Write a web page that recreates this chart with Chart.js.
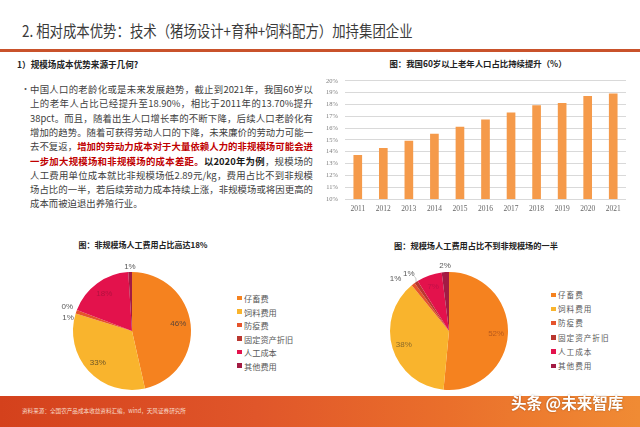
<!DOCTYPE html>
<html>
<head>
<meta charset="utf-8">
<script src="https://cdn.jsdelivr.net/npm/chart.js@4.4.1/dist/chart.umd.min.js"></script>
<style>
html, body { margin: 0; padding: 0; background: #fff; }
body { width: 640px; height: 427px; position: relative; overflow: hidden;
	font-family: "Noto Sans CJK SC", "Noto Sans", sans-serif; color: #333; }
.abs { position: absolute; white-space: nowrap; }
#title { left: 22px; top: 21px; font-size: 13.4px; line-height: 18px; color: #3a3a3a;
	transform: scaleY(1.15); transform-origin: left center; }
#rule { left: 0; top: 49px; width: 640px; height: 3px; background: #c9522b; }
#sub { left: 17px; top: 58px; font-size: 8.6px; line-height: 12px; font-weight: bold; color: #222; }
.bullet { left: 21px; font-size: 9px; color: #555; }
.line { left: 30px; width: 283px; font-size: 9.4px; line-height: 14px; color: #404040;
	text-align: justify; text-align-last: justify; }
.line.last { text-align-last: left; }
.red { color: #c00000; font-weight: bold; }
.blk { color: #1a1a1a; font-weight: bold; }
.ctitle { font-size: 8.4px; line-height: 12px; font-weight: bold; color: #222; text-align: center; }
.lg { font-size: 8.2px; line-height: 10px; color: #595959; }
.lg i { position: absolute; left: -7px; top: 2.5px; width: 4.5px; height: 4.5px; }
#foot { left: 0; top: 396px; width: 640px; height: 31px;
	background: linear-gradient(90deg, #d4411c 0%, #e0562a 40%, #ea6f2b 70%, #f08b34 100%); }
#src { left: 22px; top: 407px; font-size: 5.6px; line-height: 8px; color: #f7d9c8; }
#wm { left: 511px; top: 393px; font-size: 15.5px; line-height: 18px; color: #fff; font-weight: bold;
	text-shadow: 0 0 2px rgba(0,0,0,0.35); }
canvas { position: absolute; }
</style>
</head>
<body>

<div id="title" class="abs">2. 相对成本优势：技术（猪场设计+育种+饲料配方）加持集团企业</div>
<div id="rule" class="abs"></div>
<div id="sub" class="abs">1）规模场成本优势来源于几何?</div>

<div class="abs bullet" style="top:82px;">•</div>
<div class="abs line" style="top:82px;">中国人口的老龄化或是未来发展趋势，截止到2021年，我国60岁以</div>
<div class="abs line" style="top:96.3px;">上的老年人占比已经提升至18.90%，相比于2011年的13.70%提升</div>
<div class="abs line" style="top:110.6px;">38pct。而且，随着出生人口增长率的不断下降，后续人口老龄化有</div>
<div class="abs line" style="top:124.9px;">增加的趋势。随着可获得劳动人口的下降，未来廉价的劳动力可能一</div>
<div class="abs line" style="top:139.2px;">去不复返，<span class="red">增加的劳动力成本对于大量依赖人力的非规模场可能会进</span></div>
<div class="abs line" style="top:153.5px;"><span class="red">一步加大规模场和非规模场的成本差距。</span><span class="blk">以2020年为例</span>，规模场的</div>
<div class="abs line" style="top:167.8px;">人工费用单位成本就比非规模场低2.89元/kg，费用占比不到非规模</div>
<div class="abs line" style="top:182.1px;">场占比的一半，若后续劳动力成本持续上涨，非规模场或将因更高的</div>
<div class="abs line last" style="top:196.4px;">成本而被迫退出养殖行业。</div>

<div class="abs ctitle" style="left:378px; top:57px; width:200px;">图：我国60岁以上老年人口占比持续提升（%）</div>
<canvas id="bar" width="310" height="150" style="left:320px; top:70px;"></canvas>

<div class="abs ctitle" style="left:43px; top:239px; width:200px; font-size:8px;">图：非规模场人工费用占比高达18%</div>
<div class="abs ctitle" style="left:376px; top:239px; width:200px; font-size:8.2px;">图：规模场人工费用占比不到非规模场的一半</div>

<div id="foot" class="abs"></div>
<canvas id="pieSmall" width="200" height="150" style="left:32px; top:256px;"></canvas>
<canvas id="pieLarge" width="200" height="150" style="left:349px; top:256px;"></canvas>
<div id="legSmall"></div>
<div id="legLarge"></div>
<div id="src" class="abs">资料来源：全国农产品成本收益资料汇编，wind，天风证券研究所</div>
<div id="wm" class="abs">头条 @未来智库</div>

<script>
// ── Data ───────────────────────────────────────────────
var years = ['2011', '2012', '2013', '2014', '2015', '2016', '2017', '2018', '2019', '2020', '2021'];
var elderShare = [13.7, 14.3, 14.9, 15.5, 16.1, 16.7, 17.3, 17.9, 18.1, 18.7, 18.9];
var shareTicks = [10, 11, 12, 13, 14, 15, 16, 17, 18, 19, 20];

var costItems = ['仔畜费', '饲料费用', '防疫费', '固定资产折旧', '人工成本', '其他费用'];
var smallFarmShare = [46, 33, 1, 0, 18, 1];
var largeFarmShare = [52, 38, 1, 1, 7, 2];

// ── Styles ─────────────────────────────────────────────
var barColor = '#f59a4a';
var sliceColors = ['#f5821f', '#f9b42d', '#e5532b', '#b9372f', '#e3124c', '#a31b43'];

// draws the percentage text on / beside each slice
var pieLabels = {
	id: 'pieLabels',
	afterDatasetsDraw: function (chart, args, opts) {
		var ctx = chart.ctx;
		var values = chart.data.datasets[0].data;
		ctx.save();
		ctx.font = opts.font;
		ctx.textAlign = 'center';
		ctx.textBaseline = 'middle';
		chart.getDatasetMeta(0).data.forEach(function (arc, i) {
			var p = arc.getProps(['x', 'y', 'startAngle', 'endAngle', 'outerRadius']);
			var mid = (p.startAngle + p.endAngle) / 2;
			var inside = values[i] >= 5;
			var d = inside ? p.outerRadius * opts.insideRatio : p.outerRadius + opts.outsideGap;
			var nudge = opts.nudge[i] || [0, 0];
			var tx = p.x + Math.cos(mid) * d + nudge[0];
			var ty = p.y + Math.sin(mid) * d + nudge[1];
			if (opts.leader && opts.leader[i]) {
				ctx.strokeStyle = '#a6a6a6';
				ctx.lineWidth = 0.6;
				ctx.beginPath();
				ctx.moveTo(tx + 5, ty + 2);
				ctx.quadraticCurveTo(tx + 8, ty + 3, p.x + Math.cos(mid) * p.outerRadius, p.y + Math.sin(mid) * p.outerRadius);
				ctx.stroke();
			}
			ctx.fillStyle = inside ? opts.insideColors[i] : opts.outsideColor;
			ctx.fillText(values[i] + '%', tx, ty);
		});
		ctx.restore();
	}
};

function makePie(id, values, labelOpts) {
	return new Chart(document.getElementById(id), {
		type: 'pie',
		data: {
			labels: costItems,
			datasets: [{ data: values, backgroundColor: sliceColors, borderWidth: 0 }]
		},
		options: {
			responsive: false,
			animation: false,
			layout: { padding: 16 },
			plugins: {
				legend: { display: false },
				tooltip: { enabled: false },
				pieLabels: labelOpts
			}
		},
		plugins: [pieLabels]
	});
}

function makeLegend(id, left, top, step, textStyle) {
	var box = document.getElementById(id);
	costItems.forEach(function (name, i) {
		var row = document.createElement('div');
		row.className = 'abs lg';
		row.style.left = left + 'px';
		row.style.top = (top + i * step) + 'px';
		if (textStyle) { row.setAttribute('style', row.getAttribute('style') + textStyle); }
		var sq = document.createElement('i');
		sq.style.background = sliceColors[i];
		row.appendChild(sq);
		row.appendChild(document.createTextNode(name));
		box.appendChild(row);
	});
}

Chart.defaults.font.family = '"Liberation Sans", sans-serif';

// ── Bar Chart: 60+ population share ────────────────────
new Chart(document.getElementById('bar'), {
	type: 'bar',
	data: {
		labels: years,
		datasets: [{ data: elderShare, backgroundColor: barColor, barThickness: 8 }]
	},
	options: {
		responsive: false,
		animation: false,
		layout: { padding: { top: 10, right: 4, left: 0, bottom: 0 } },
		plugins: { legend: { display: false }, tooltip: { enabled: false } },
		scales: {
			x: {
				grid: { display: false, drawTicks: false },
				border: { display: false },
				ticks: {
					color: '#666',
					font: { family: '"Liberation Serif", serif', size: 7.5 },
					padding: 6,
					maxRotation: 0,
					autoSkip: false
				},
				afterFit: function (s) { s.height = 21; }
			},
			y: {
				min: 10,
				max: 20,
				afterBuildTicks: function (s) {
					s.ticks = shareTicks.map(function (v) { return { value: v }; });
				},
				ticks: {
					callback: function (v) { return v + '%'; },
					color: '#7f7f7f',
					font: { family: '"Liberation Serif", serif', size: 6.5 },
					padding: 7
				},
				grid: { color: '#d9d9d9', drawTicks: false },
				border: { display: false },
				afterFit: function (s) { s.width = 25; }
			}
		}
	}
});

// ── Pie Charts: cost structure ─────────────────────────
makePie('pieSmall', smallFarmShare, {
	font: '8px "Liberation Sans", sans-serif',
	insideRatio: 0.79,
	outsideGap: 6,
	outsideColor: '#595959',
	insideColors: ['#5e4637', '#6b5528', '', '', '#b3113f', ''],
	nudge: [[0, -2], [0, 0], [-2.5, 8], [-4, -1], [0, 0], [0, 1]]
});
makePie('pieLarge', largeFarmShare, {
	font: '8px "Liberation Sans", sans-serif',
	insideRatio: 0.8,
	outsideGap: 6,
	outsideColor: '#595959',
	insideColors: ['#b85a1c', '#8a6a2a', '', '', '#c01048', ''],
	nudge: [[0, 1], [0, 0], [-14, -1], [-4, -3], [0, 0], [0, 0]],
	leader: [false, false, false, true, false, false]
});

makeLegend('legSmall', 244, 293, 13.5, '');
makeLegend('legLarge', 558, 290, 14.2, 'font-size:7.6px; letter-spacing:1px;');
</script>
</body>
</html>
